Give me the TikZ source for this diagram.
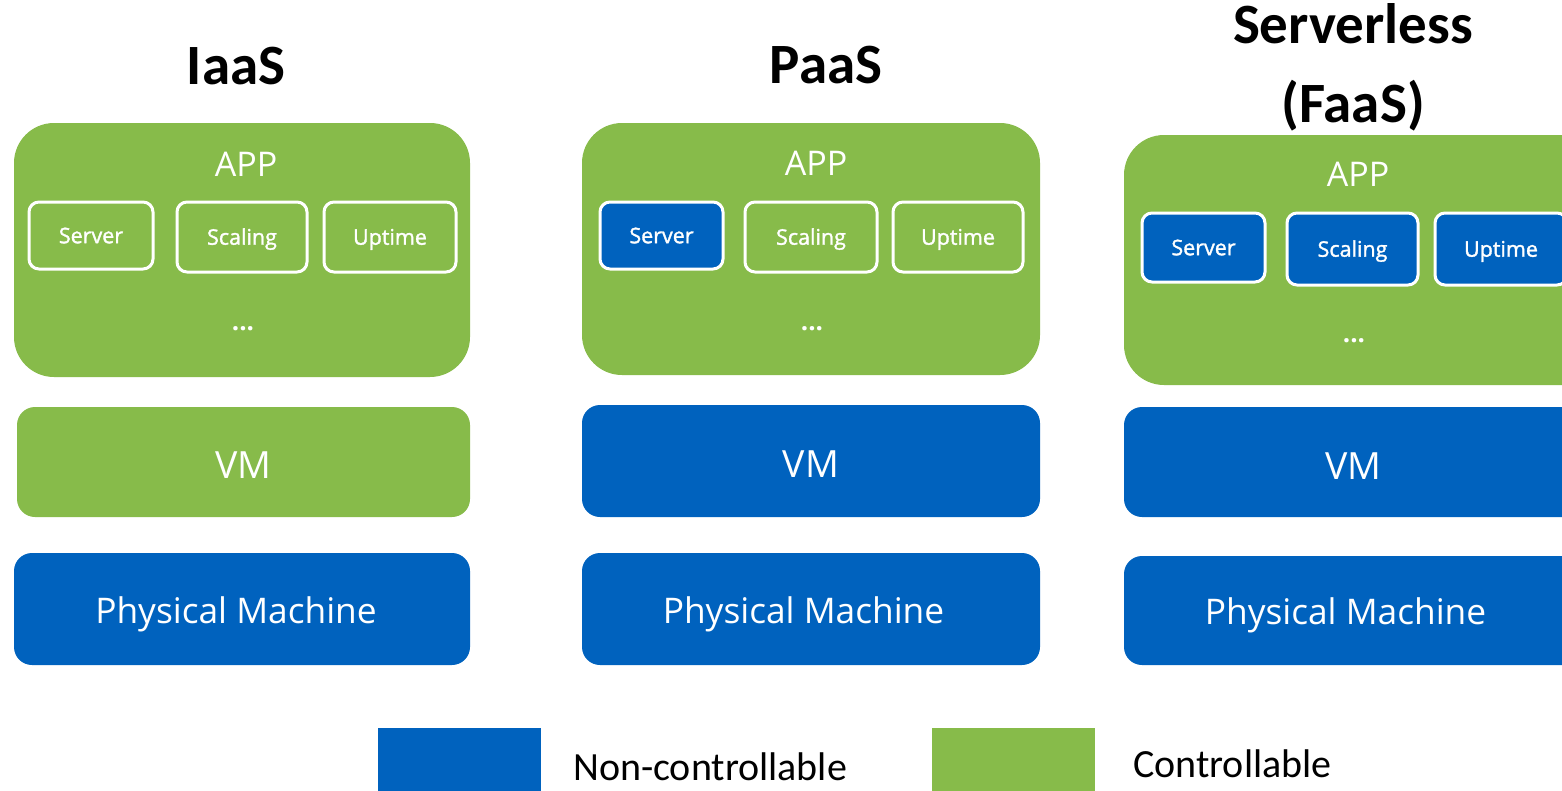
\documentclass[tikz,border=0pt]{standalone}
\usepackage{fontspec}
\setmainfont{Open Sans}
\newfontfamily\titlefont{Carlito}
\newfontfamily\chipfont[FakeBold=1.5]{Open Sans}
\definecolor{ctrlgreen}{RGB}{135,187,74}
\definecolor{fixedblue}{RGB}{0,98,190}
\begin{document}
\begin{tikzpicture}[x=1pt,y=-1pt,
  layer/.style={rounded corners=18pt, inner sep=0pt, text=white,
    font=\fontsize{35.3}{42}\selectfont, text height=25.2pt, text depth=0pt},
  % VM label sits 3pt below the middle of its box
  vmfont/.style={font=\fontsize{37.5}{44}\selectfont, text height=32.8pt},
  appbox/.style={rounded corners=40pt, fill=ctrlgreen, inner sep=0pt},
  chip/.style={rounded corners=10pt, draw=white, line width=3pt, inner sep=0pt,
    text=white, font=\chipfont\fontsize{21.5}{26}\selectfont, text height=15.4pt, text depth=0pt},
  applabel/.style={text=white, inner sep=0pt, font=\fontsize{34}{40}\selectfont,
    text height=24.3pt, text depth=0pt},
  dots/.style={text=white, inner sep=0pt, font=\fontsize{26}{30}\selectfont\bfseries},
  heading/.style={inner sep=0pt, font=\titlefont\bfseries\fontsize{57}{79}\selectfont},
  swatch/.style={inner sep=0pt, minimum width=163pt, minimum height=70pt, anchor=north west},
  legendtext/.style={inner sep=0pt, anchor=base west, font=\titlefont\fontsize{40}{48}\selectfont}]
\useasboundingbox (0,0) rectangle (1562,790);
\clip (0,0) rectangle (1562,790);

% ---------- IaaS ----------
\node[heading, text height=36.7pt, text depth=0pt] (t1) at (236,66.5) {IaaS};
\node[appbox, minimum width=456pt, minimum height=254pt] (app1) at (242,250) {};
\node[applabel] (app1l) at (246,164) {APP};
\node[chip, fill=ctrlgreen, minimum width=124pt, minimum height=67pt] (srv1) at (91,235.5) {Server};
\node[chip, fill=ctrlgreen, minimum width=130pt, minimum height=70pt] (scl1) at (242,237) {Scaling};
\node[chip, fill=ctrlgreen, minimum width=132pt, minimum height=70pt] (upt1) at (390,237) {Uptime};
\node[dots] (dot1) at (243,329) {...};
\node[layer, vmfont, fill=ctrlgreen, minimum width=453pt, minimum height=110pt] (vm1) at (243.5,462) {VM};
\node[layer, fill=fixedblue, minimum width=456pt, minimum height=112pt, text height=0pt] (pm1) at (242,609) {};
\node[layer, fill=none] (pm1l) at (236,610.5) {Physical Machine};

% ---------- PaaS ----------
\node[heading, text height=36.7pt, text depth=0pt] (t2) at (826,65) {PaaS};
\node[appbox, minimum width=458pt, minimum height=252pt] (app2) at (811,249) {};
\node[applabel] (app2l) at (816,163) {APP};
\node[chip, fill=fixedblue, minimum width=123pt, minimum height=67pt] (srv2) at (661.5,235.5) {Server};
\node[chip, fill=ctrlgreen, minimum width=132pt, minimum height=70pt] (scl2) at (811,237) {Scaling};
\node[chip, fill=ctrlgreen, minimum width=130pt, minimum height=70pt] (upt2) at (958,237) {Uptime};
\node[dots] (dot2) at (812,329) {...};
\node[layer, vmfont, fill=fixedblue, minimum width=458pt, minimum height=112pt] (vm2) at (811,461) {VM};
\node[layer, fill=fixedblue, minimum width=458pt, minimum height=112pt, text height=0pt] (pm2) at (811,609) {};
\node[layer, fill=none] (pm2l) at (803.5,610.5) {Physical Machine};

% ---------- Serverless (FaaS) ----------
\node[heading, align=center, anchor=north] (t3) at (1353,3) {Serverless\\(FaaS)};
\node[appbox, minimum width=480pt, minimum height=250pt] (app3) at (1364,260) {};
\node[applabel] (app3l) at (1358,174) {APP};
\node[chip, fill=fixedblue, minimum width=123pt, minimum height=69pt] (srv3) at (1203.5,247.5) {Server};
\node[chip, fill=fixedblue, minimum width=131pt, minimum height=72pt] (scl3) at (1352.5,249) {Scaling};
\node[chip, fill=fixedblue, minimum width=132pt, minimum height=72pt] (upt3) at (1501,249) {Uptime};
\node[dots] (dot3) at (1354,341) {...};
\node[layer, fill=fixedblue, minimum width=476pt, minimum height=110pt, text height=0pt] (vm3) at (1362,462) {};
\node[layer, vmfont, fill=none, text height=26.8pt] (vm3l) at (1353.5,466) {VM};
\node[layer, fill=fixedblue, minimum width=476pt, minimum height=109pt, text height=0pt] (pm3) at (1362,610.5) {};
\node[layer, fill=none] (pm3l) at (1345.5,612) {Physical Machine};

% ---------- legend ----------
\node[swatch, fill=fixedblue] (keyblue) at (378,728) {};
\node[legendtext] (keybluel) at (573,780) {Non-controllable};
\node[swatch, fill=ctrlgreen] (keygreen) at (932,728) {};
\node[legendtext] (keygreenl) at (1133,777) {Controllable};
\end{tikzpicture}
\end{document}
